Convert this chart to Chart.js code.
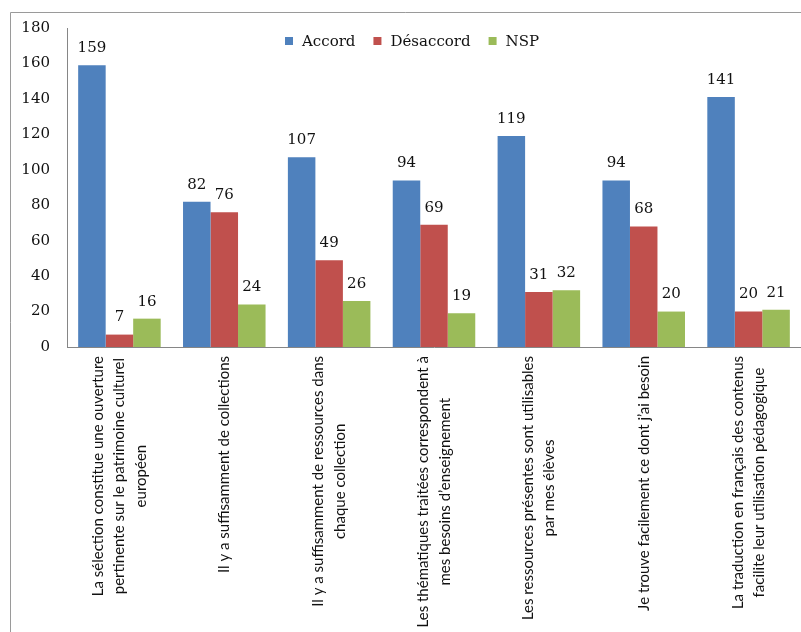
<!DOCTYPE html>
<html lang="fr">
<head>
<meta charset="UTF-8">
<title>Avis sur la sélection de ressources</title>
<script src="https://cdn.jsdelivr.net/npm/chart.js"></script>
<style>
  html, body { margin: 0; padding: 0; background: #fff; }
  #cadre { width: 801px; height: 632px; position: relative; }
</style>
</head>
<body>

<div id="cadre"><canvas id="graphique"></canvas></div>

<script>
// Affirmations, découpées en lignes comme sur l'axe
const affirmations = [
    ["La sélection constitue une ouverture", "pertinente sur le patrimoine culturel", "européen"],
    ["Il y a suffisamment de collections"],
    ["Il y a suffisamment de ressources dans", "chaque collection"],
    ["Les thématiques traitées correspondent à", "mes besoins d’enseignement"],
    ["Les ressources présentes sont utilisables", "par mes élèves"],
    ["Je trouve facilement ce dont j’ai besoin"],
    ["La traduction en français des contenus", "facilite leur utilisation pédagogique"]
];

// Nombre de réponses par affirmation
const accord    = [159, 82, 107, 94, 119, 94, 141];
const desaccord = [7, 76, 49, 69, 31, 68, 20];
const nsp       = [16, 24, 26, 19, 32, 20, 21];

// Graduations de l'axe vertical
const graduations = [0, 20, 40, 60, 80, 100, 120, 140, 160, 180];

const policeSerif = "'DejaVu Serif', serif";
const policeAxe = "Lato, sans-serif";

document.addEventListener('DOMContentLoaded', function () {

    // Cadre gris autour du graphique
    const cadre = {
        id: 'cadre',
        beforeDraw(chart) {
            const ctx = chart.ctx;
            ctx.save();
            ctx.fillStyle = '#fff';
            ctx.fillRect(0, 0, chart.width, chart.height);
            ctx.strokeStyle = '#9a9a9a';
            ctx.lineWidth = 1;
            ctx.beginPath();
            ctx.moveTo(10.5, chart.height);
            ctx.lineTo(10.5, 12.5);
            ctx.lineTo(chart.width, 12.5);
            ctx.stroke();
            ctx.restore();
        }
    };

    // Valeurs au-dessus de chaque barre
    const valeurs = {
        id: 'valeurs',
        afterDatasetsDraw(chart) {
            const ctx = chart.ctx;
            ctx.save();
            ctx.font = '15px ' + policeSerif;
            ctx.fillStyle = '#111';
            ctx.textAlign = 'center';
            ctx.textBaseline = 'middle';
            chart.data.datasets.forEach((ds, i) => {
                chart.getDatasetMeta(i).data.forEach((barre, j) => {
                    ctx.fillText(ds.data[j], barre.x, barre.y - 17);
                });
            });
            ctx.restore();
        }
    };

    // Légende placée dans la zone de tracé
    const legende = {
        id: 'legende',
        afterDraw(chart) {
            const ctx = chart.ctx;
            ctx.save();
            ctx.font = '15px ' + policeSerif;
            ctx.textBaseline = 'middle';
            ctx.textAlign = 'left';
            let x = 285;
            const y = 41;
            chart.data.datasets.forEach(ds => {
                ctx.fillStyle = ds.backgroundColor;
                ctx.fillRect(x, y - 4, 8, 8);
                ctx.fillStyle = '#111';
                ctx.fillText(ds.label, x + 17, y + 1);
                x += 17 + ctx.measureText(ds.label).width + 18;
            });
            ctx.restore();
        }
    };

    // Libellés verticaux, lignes centrées entre elles
    const etiquettes = {
        id: 'etiquettes',
        afterDraw(chart) {
            const axe = chart.scales.x;
            const ctx = chart.ctx;
            const interligne = 21.5;
            ctx.save();
            ctx.font = '15px ' + policeAxe;
            ctx.fillStyle = '#111';
            ctx.textAlign = 'center';
            ctx.textBaseline = 'middle';
            affirmations.forEach((lignes, i) => {
                const largeur = Math.max(...lignes.map(l => ctx.measureText(l).width));
                ctx.save();
                ctx.translate(axe.getPixelForTick(i), axe.top + 9);
                ctx.rotate(-Math.PI / 2);
                lignes.forEach((l, k) => {
                    ctx.fillText(l, -largeur / 2, (k - (lignes.length - 1) / 2) * interligne);
                });
                ctx.restore();
            });
            ctx.restore();
        }
    };

    const ctx = document.getElementById('graphique').getContext('2d');
    new Chart(ctx, {
        type: 'bar',
        data: {
            labels: affirmations,
            datasets: [
                { label: 'Accord', data: accord, backgroundColor: '#4f81bd' },
                { label: 'Désaccord', data: desaccord, backgroundColor: '#c0504d' },
                { label: 'NSP', data: nsp, backgroundColor: '#9bbb59' }
            ]
        },
        options: {
            responsive: true,
            maintainAspectRatio: false,
            animation: false,
            layout: { padding: { top: 28, left: 0, right: 0, bottom: 0 } },
            datasets: {
                bar: { categoryPercentage: 0.787, barPercentage: 1.0, borderWidth: 0 }
            },
            scales: {
                x: {
                    grid: { display: false },
                    border: { color: '#868686' },
                    ticks: { display: false },
                    afterFit: axe => { axe.height = 285; }
                },
                y: {
                    min: 0,
                    max: 180,
                    grid: { display: false, drawTicks: false },
                    border: { color: '#868686' },
                    ticks: {
                        padding: 17,
                        color: '#111',
                        font: { family: policeSerif, size: 15 }
                    },
                    afterBuildTicks: axe => { axe.ticks = graduations.map(v => ({ value: v })); },
                    afterFit: axe => { axe.width = 67; }
                }
            },
            plugins: {
                legend: { display: false },
                tooltip: { enabled: false }
            }
        },
        plugins: [cadre, valeurs, legende, etiquettes]
    });
});
</script>

</body>
</html>
